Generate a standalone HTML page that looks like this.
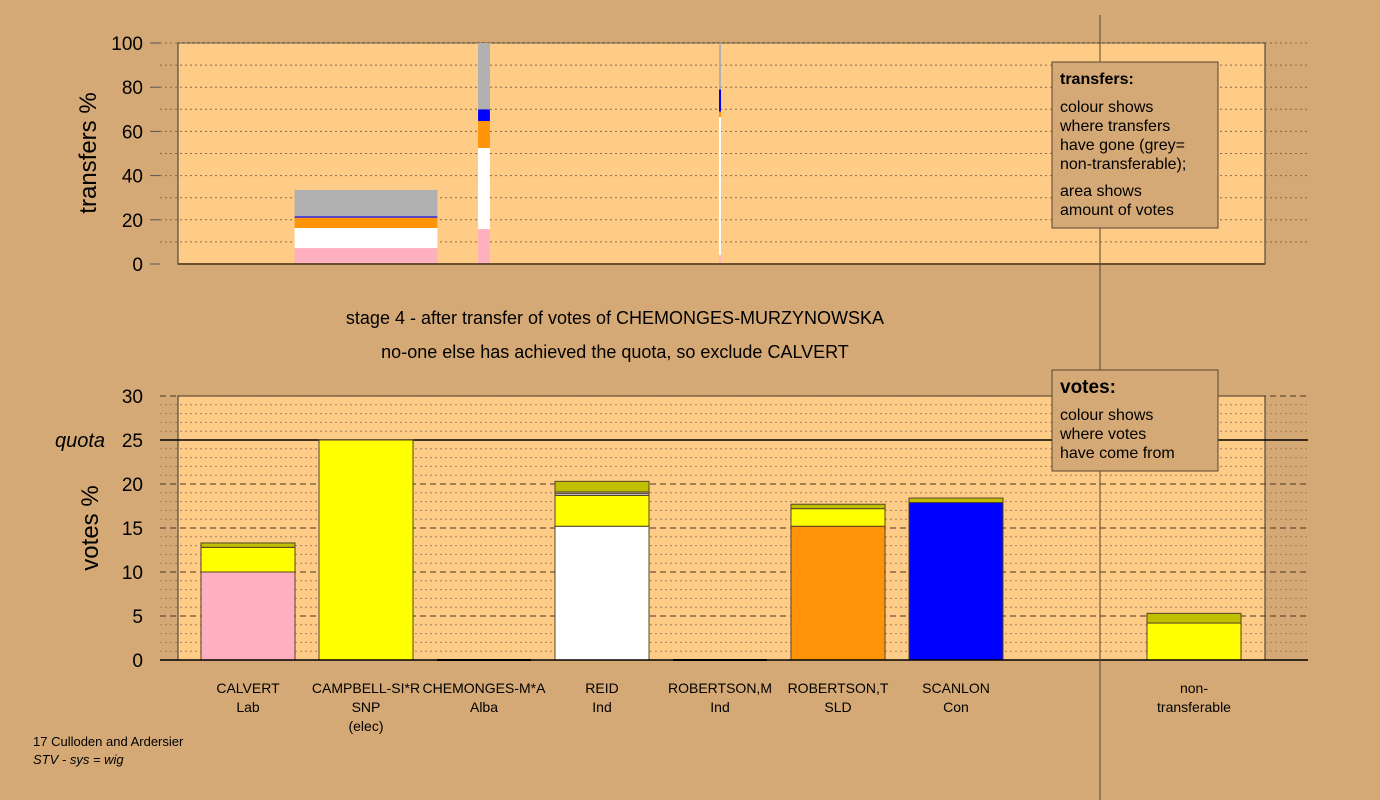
<!DOCTYPE html>
<html><head><meta charset="utf-8"><style>
body{margin:0;background:#d4a976;}
svg{display:block;font-family:"Liberation Sans",sans-serif;}
</style></head><body>
<svg id="c" width="1380" height="800"></svg>
<script>
const candidates=["CALVERT","CAMPBELL-SI*R","CHEMONGES-M*A","REID","ROBERTSON,M","ROBERTSON,T","SCANLON","non-"];
const parties=["Lab","SNP","Alba","Ind","Ind","SLD","Con","transferable"];
const extra=["","(elec)","","","","","",""];
// bottom stacked votes: [colour, value]
const voteStacks=[
 [["#ffb0c0",10.0],["#ffff00",2.8],["#c0c000",0.5]],
 [["#ffff00",25.0]],
 [],
 [["#ffffff",15.2],["#ffff00",3.5],["#ffffff",0.2],["#b0b0b0",0.2],["#c0c000",1.2]],
 [],
 [["#ff9408",15.2],["#ffff00",2.0],["#c0c000",0.5]],
 [["#0000ff",17.9],["#c0c000",0.5]],
 [["#ffff00",4.2],["#c0c000",1.1]]
];
const voteTicks=[0,5,10,15,20,25,30];
const quota=25;
// top transfer columns
const transferPos=[1,2,4];
const transferWidth=[12.1,1.0,0.17];
const transferStacks=[
 [["#ffb0c0",7.2],["#ffffff",9.1],["#ff9408",4.7],["#0000ff",0.6],["#b0b0b0",11.9]],
 [["#ffb0c0",15.8],["#ffffff",36.7],["#ff9408",12.2],["#0000ff",5.3],["#b0b0b0",30]],
 [["#ffb0c0",4],["#ffffff",62.5],["#ff9408",2.5],["#0000ff",10],["#b0b0b0",21]]
];
const transferTicks=[0,20,40,60,80,100];

const svg=document.getElementById('c');
const NS="http://www.w3.org/2000/svg";
function mk(t,a,p){const e=document.createElementNS(NS,t);for(const k in a)e.setAttribute(k,a[k]);(p||svg).appendChild(e);return e;}
function txt(s,a){const e=mk('text',a);e.textContent=s;return e;}
const X0=178,X1=1265;
const xc=i=>248+i*118+(i==7?(1194-248-7*118):0);
const yT=v=>264-v*2.21;
const yB=v=>660-v*8.8;
const wScale=11.8;

// top plot
let r=mk('rect',{x:X0,y:43,width:X1-X0,height:221,fill:'#ffcc88',stroke:'#333','stroke-width':1});

for(let v=10;v<=100;v+=10){mk('line',{x1:160,x2:1308,y1:yT(v),y2:yT(v),stroke:'#8a6a44','stroke-dasharray':'2,3','stroke-width':1});}
transferTicks.forEach(v=>{const t=txt(v,{x:143,y:yT(v)+7,'text-anchor':'end','font-size':19,fill:'#000'});

mk('line',{x1:150,x2:160,y1:yT(v),y2:yT(v),stroke:'#555'});});
transferStacks.forEach((st,j)=>{const w=transferWidth[j]*wScale;const cx=xc(transferPos[j]);let b=0;
st.forEach(([c,v])=>{const e=mk('rect',{x:cx-w/2,y:yT(b+v),width:w,height:v*2.21,fill:c});
b+=v;});});
mk('line',{x1:X0,x2:X1,y1:264,y2:264,stroke:'#6b5030','stroke-width':2});
let t=txt('transfers %',{x:0,y:0,transform:'translate(96,153) rotate(-90)','text-anchor':'middle','font-size':24});


// titles
t=txt('stage 4 - after transfer of votes of CHEMONGES-MURZYNOWSKA',{x:615,y:324,'text-anchor':'middle','font-size':18});

t=txt('no-one else has achieved the quota, so exclude CALVERT',{x:615,y:358,'text-anchor':'middle','font-size':18});


// bottom plot
r=mk('rect',{x:X0,y:396,width:X1-X0,height:264,fill:'#ffcc88',stroke:'#333','stroke-width':1});

for(let v=1;v<=30;v++){if(v%5)mk('line',{x1:160,x2:1308,y1:yB(v),y2:yB(v),stroke:'#a08060','stroke-dasharray':'2,3','stroke-width':1});
else if(v!=quota)mk('line',{x1:160,x2:1308,y1:yB(v),y2:yB(v),stroke:'#4a3520','stroke-dasharray':'6,4','stroke-width':1});}
mk('line',{x1:160,x2:1308,y1:yB(quota),y2:yB(quota),stroke:'#000','stroke-width':1.5});
voteTicks.forEach(v=>{const e=txt(v,{x:143,y:yB(v)+7,'text-anchor':'end','font-size':19});
});
t=txt('quota',{x:55,y:yB(quota)+7,'font-size':20,'font-style':'italic'});

voteStacks.forEach((st,i)=>{let b=0;const cx=xc(i);
if(!st.length){mk('line',{x1:cx-47,x2:cx+47,y1:660,y2:660,stroke:'#000','stroke-width':2});}
st.forEach(([c,v])=>{const e=mk('rect',{x:cx-47,y:yB(b+v),width:94,height:v*8.8,fill:c,stroke:'#554422','stroke-width':1});
b+=v;});});
mk('line',{x1:160,x2:1308,y1:660,y2:660,stroke:'#000','stroke-width':1.5});
t=txt('votes %',{x:0,y:0,transform:'translate(98,528) rotate(-90)','text-anchor':'middle','font-size':24});

candidates.forEach((c,i)=>{const g=mk('g',{});
[c,parties[i],extra[i]].forEach((s,k)=>{if(s){const e=mk('text',{x:xc(i),y:693+k*19,'text-anchor':'middle','font-size':14},g);e.textContent=s;}});});

// divider
mk('line',{x1:1100,x2:1100,y1:15,y2:800,stroke:'#5a4530','stroke-width':1});

// legends
let g=mk('g',{});
mk('rect',{x:1052,y:62,width:166,height:166,fill:'#d4a976',stroke:'#5a4530'},g);
[['transfers:',84,1],['colour shows',112],['where transfers',131],['have gone (grey=',150],['non-transferable);',169],['area shows',196],['amount of votes',215]].forEach(([s,y,b])=>{const e=mk('text',{x:1060,y:y,'font-size':b?16:16,'font-weight':b?'bold':'normal'},g);e.textContent=s;});
g=mk('g',{});
mk('rect',{x:1052,y:370,width:166,height:101,fill:'#d4a976',stroke:'#5a4530'},g);
[['votes:',393,1],['colour shows',420],['where votes',439],['have come from',458]].forEach(([s,y,b])=>{const e=mk('text',{x:1060,y:y,'font-size':b?19:16,'font-weight':b?'bold':'normal'},g);e.textContent=s;});

// footer
t=txt('17 Culloden and Ardersier',{x:33,y:746,'font-size':13});

t=txt('STV - sys = wig',{x:33,y:764,'font-size':13,'font-style':'italic'});

</script>
</body></html>
